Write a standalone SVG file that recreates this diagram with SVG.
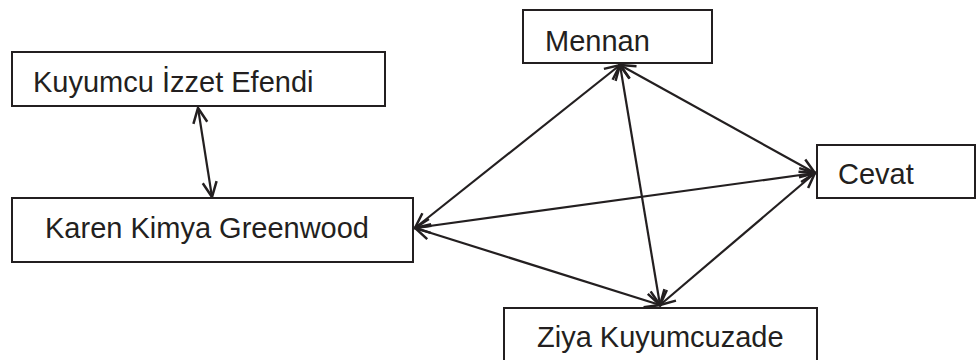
<svg xmlns="http://www.w3.org/2000/svg" width="977" height="360" viewBox="0 0 977 360">
<style>
.box{fill:#fff;stroke:#231f20;stroke-width:2}
.lbl{font-family:"Liberation Sans",Arial,sans-serif;font-size:29px;fill:#231f20}
.con{stroke:#231f20;stroke-width:2.2;fill:none;marker-start:url(#ah);marker-end:url(#ah)}
</style>
<defs>
<marker id="ah" markerUnits="userSpaceOnUse" viewBox="-16 -9 18 18" refX="0" refY="0" markerWidth="18" markerHeight="18" orient="auto-start-reverse">
<path d="M -15 -7 L 0 0 L -15 7" fill="none" stroke="#231f20" stroke-width="2.5"/>
</marker>
</defs>
<rect width="977" height="360" fill="#fff"/>
<g id="connectors">
<line class="con" x1="198" y1="108" x2="212" y2="197"/>
<line class="con" x1="620" y1="65" x2="415" y2="228"/>
<line class="con" x1="620" y1="65" x2="815" y2="173"/>
<line class="con" x1="620" y1="65" x2="660" y2="305"/>
<line class="con" x1="415" y1="228" x2="815" y2="173"/>
<line class="con" x1="415" y1="228" x2="660" y2="305"/>
<line class="con" x1="815" y1="173" x2="660" y2="305"/>
</g>
<g id="kuyumcu">
<rect class="box" x="12" y="52" width="373" height="54"/>
<text class="lbl" x="33" y="92">Kuyumcu İzzet Efendi</text>
</g>
<g id="karen">
<rect class="box" x="12" y="198" width="401" height="64"/>
<text class="lbl" x="45" y="238">Karen Kimya Greenwood</text>
</g>
<g id="mennan">
<rect class="box" x="523" y="10" width="189" height="53"/>
<text class="lbl" x="545" y="51">Mennan</text>
</g>
<g id="cevat">
<rect class="box" x="817" y="145" width="158" height="53"/>
<text class="lbl" x="838" y="184">Cevat</text>
</g>
<g id="ziya">
<rect class="box" x="504" y="308" width="313" height="60"/>
<text class="lbl" x="537" y="347">Ziya Kuyumcuzade</text>
</g>
</svg>
